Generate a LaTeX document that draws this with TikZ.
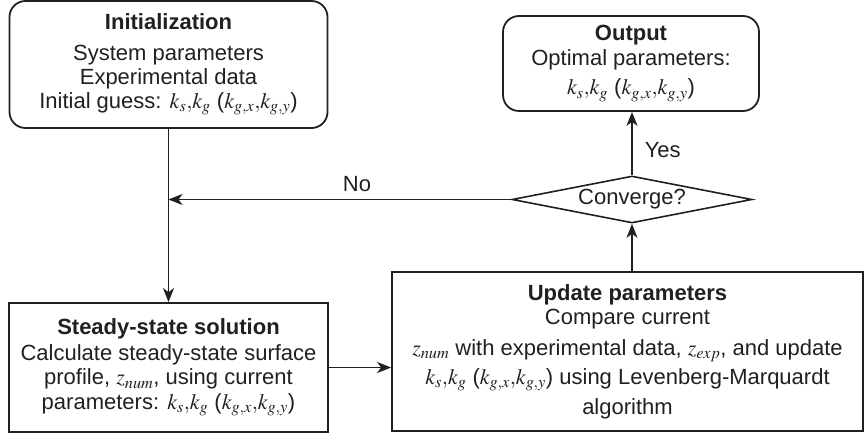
\documentclass[tikz,border=0pt]{standalone}
\usepackage{mathptmx}
\usepackage{fontspec}
\setmainfont{Liberation Sans}
\usetikzlibrary{arrows.meta,shapes.geometric}
\definecolor{ink}{RGB}{35,31,32}
\newcommand{\kk}{$k_s{,}k_g$ ($k_{g,x}{,}k_{g,y}$)}
\begin{document}
\begin{tikzpicture}[x=1pt,y=-1pt,
  font=\fontsize{22}{24.5}\selectfont, text=ink,
  box/.style={draw=ink, line width=1.8pt, align=center, inner sep=0pt},
  arr/.style={draw=ink, line width=1.6pt, -{Stealth[length=14pt,width=11pt,inset=4pt]}},
  lbl/.style={font=\fontsize{22}{25}\selectfont, inner sep=2pt}]
\useasboundingbox (0,0) rectangle (864,435);
\node[box, rounded corners=16pt, minimum width=318pt, minimum height=127pt] (init) at (168.5,64.5)
  {\textbf{Initialization}\\[6pt] System parameters\\ Experimental data\\[-1pt] Initial guess: \kk};
\node[box, rounded corners=16pt, minimum width=256pt, minimum height=95pt] (out) at (631,63.5)
  {\textbf{Output}\\[0pt] Optimal parameters:\\[5pt] \kk};
\node[box, minimum width=319pt, minimum height=129pt] (steady) at (168.5,367.5)
  {\textbf{Steady-state solution}\\[1pt] Calculate steady-state surface\\ profile, $z_{num}$, using current\\ parameters: \kk};
\node[box, minimum width=471pt, minimum height=159pt] (upd) at (627.5,351.5)
  {\textbf{Update parameters}\\[0pt] Compare current\\[6pt] $z_{num}$ with experimental data, $z_{exp}$, and update\\[5pt] \kk\ using Levenberg-Marquardt\\[5pt] algorithm};
\node[draw=ink, line width=1.6pt, diamond, aspect=5, inner sep=0pt, minimum width=240pt, minimum height=47pt] (dia) at (632,199.5) {Converge?};
\draw[arr] (init.south -| steady.north) -- (steady.north);
\draw[arr] (steady.east) -- (steady.east -| upd.west);
\draw[arr] (dia.south |- upd.north) -- (dia.south);
\draw[arr] (dia.north) -- node[lbl, right, pos=0.4, xshift=10pt] (yes) {Yes} (dia.north |- out.south);
\draw[arr] (dia.west) -- node[lbl, above, pos=0.45, yshift=5pt] (no) {No} (dia.west -| init.south);
\end{tikzpicture}
\end{document}
